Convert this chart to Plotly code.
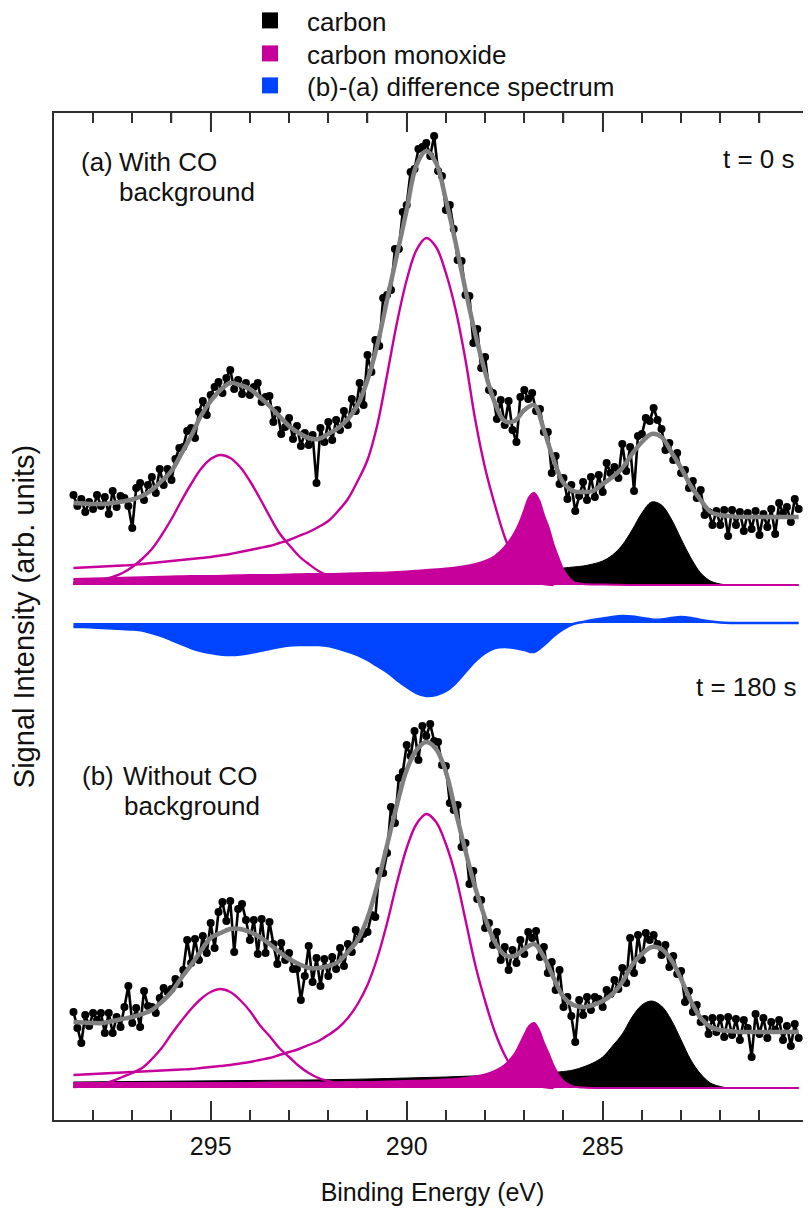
import plotly.graph_objects as go

# ---------------- data ----------------
# Binding-energy sampling of the measured points (eV), 0.1 eV steps from 298.5 down to 280.0
E_START, E_STEP, N_DATA = 298.5, 0.1, 186
energy_data = [round(E_START - E_STEP * i, 2) for i in range(N_DATA)]
# Binding-energy sampling of fitted curves (eV), 0.25 eV steps
N_FIT = 75
energy_fit = [round(298.5 - 0.25 * i, 2) for i in range(N_FIT)]

# (a) With CO background: measured points (arb. units above component baseline)
data_a = [90, 79, 86, 73, 83, 76, 90, 79, 88, 71,
          94, 78, 89, 87, 79, 57, 97, 102, 85, 100,
          108, 92, 116, 100, 116, 105, 126, 137, 138, 154,
          157, 147, 173, 184, 170, 190, 198, 203, 192, 207,
          215, 196, 205, 191, 202, 190, 198, 202, 183, 188,
          189, 163, 175, 151, 158, 167, 146, 159, 139, 152,
          140, 150, 102, 157, 143, 163, 145, 165, 155, 174,
          160, 186, 174, 202, 180, 230, 213, 245, 239, 287,
          290, 295, 336, 336, 373, 380, 413, 416, 436, 438,
          442, 429, 449, 414, 409, 375, 380, 356, 325, 324,
          290, 289, 242, 256, 217, 228, 195, 192, 166, 185,
          160, 184, 155, 143, 188, 195, 186, 192, 174, 176,
          153, 153, 112, 129, 101, 107, 86, 100, 74, 89,
          103, 85, 108, 88, 110, 93, 122, 112, 118, 107,
          141, 114, 138, 94, 149, 151, 167, 164, 177, 165,
          156, 135, 142, 125, 132, 112, 115, 97, 104, 87,
          95, 70, 73, 60, 74, 60, 75, 49, 75, 60,
          73, 54, 72, 56, 74, 50, 71, 58, 76, 51,
          82, 72, 78, 63, 86, 76]
fit_a = [82, 81.5, 81, 81, 82, 83.5, 85.5, 89, 95, 104,
         114, 131, 149, 169, 184, 195, 202, 200, 196, 188,
         179, 169, 159, 152, 147, 146, 151, 157, 166, 180,
         205, 240, 285, 330, 375, 420, 434, 422, 385, 342,
         295, 251, 213, 182, 164, 164, 175, 180, 155, 125,
         102, 94, 93, 94, 101, 108, 117, 131, 143, 151,
         148, 133, 117, 99, 85, 73, 70, 69, 68, 68,
         68, 68, 68, 68, 68]
co295_a = [1, 2, 3, 5, 8, 12, 18, 26, 36, 50, 66, 84, 101, 116, 126, 130, 127, 118,
           104, 87, 69, 52, 40, 29, 21, 14, 9, 5, 2]
co289_a = [17, 17.5, 18, 18.5, 19, 19.5, 20, 21, 22, 23, 24, 25, 26, 27, 28, 29.5, 31,
           33, 35, 37, 39, 42, 45, 49, 53, 58, 64, 74, 86, 104, 125, 160, 210, 262, 305,
           335, 347, 338, 312, 275, 225, 165, 117, 80, 48, 25, 11, 4, 1, 0]

energy_co287 = [298.5, 298.0, 297.5, 297.0, 296.5, 296.0, 295.5, 295.0, 294.5, 294.0,
                293.5, 293.0, 292.5, 292.0, 291.5, 291.0, 290.5, 290.0, 289.5, 289.0,
                288.75, 288.5, 288.25, 288.0, 287.75, 287.5, 287.25, 287.125, 287.0, 286.875,
                286.75, 286.625, 286.5, 286.375, 286.25, 286.125, 286.0, 285.875, 285.75,
                285.5, 285.0, 284.0, 283.0, 282.0, 281.0, 280.0]
co287_a = [6, 6.5, 7, 7.5, 8, 8.5, 9, 9, 9.5, 10, 10, 10.5, 11, 11, 11.5, 12, 12.5, 13.5,
           15, 16.5, 17.5, 19, 21, 24, 29, 38, 52, 62, 75, 88, 92, 85, 70, 57, 40, 27, 15,
           8, 3, 1, 0.5, 0, 0, 0, 0, 0]

energy_carbon = [298.5, 297.0, 295.5, 294.0, 292.5, 291.0, 290.0, 289.0, 288.0, 287.0,
                 286.5, 286.0, 285.75, 285.5, 285.25, 285.0, 284.75, 284.5, 284.25, 284.0,
                 283.75, 283.5, 283.25, 283.0, 282.75, 282.5, 282.25, 282.0, 281.75, 281.0, 280.0]
carbon_a = [3, 4, 5, 6, 7, 8, 9, 10, 12, 14, 15, 17, 18, 19, 21, 24, 30, 40, 55, 72, 83,
            80, 66, 46, 27, 12, 4, 1, 0, 0, 0]

# (b)-(a) difference spectrum
diff_ba = [-4, -4, -4.5, -5, -5.5, -6, -6.5, -7.5, -10, -13,
           -17, -21, -25, -28, -30, -31.5, -32, -31.5, -30, -28,
           -26, -24, -22.5, -22, -22, -22, -23, -25.5, -28.5, -32,
           -37, -43, -49, -57, -64, -70, -73, -72, -68, -60,
           -49, -38, -30, -25, -24, -25, -27, -29, -22, -13,
           -6, -1, 1, 3, 4.5, 6, 7, 6.5, 5, 3.5,
           3.5, 5, 6, 5, 3, 1.5, 0.5, 0, 0, 0,
           0, 0, 0, 0, 0]

# (b) Without CO background
data_b = [76, 60, 45, 73, 62, 75, 68, 75, 55, 75,
          55, 71, 61, 81, 102, 65, 80, 61, 97, 82,
          81, 75, 90, 100, 96, 99, 109, 104, 118, 148,
          125, 149, 128, 152, 135, 165, 140, 176, 186, 167,
          187, 136, 179, 184, 168, 148, 168, 134, 169, 135,
          166, 144, 124, 145, 128, 135, 119, 119, 88, 112,
          142, 106, 130, 102, 129, 112, 131, 119, 140, 122,
          144, 136, 158, 149, 154, 156, 173, 171, 217, 215,
          235, 281, 265, 310, 316, 343, 332, 357, 328, 362,
          352, 364, 347, 346, 323, 322, 285, 278, 283, 241,
          245, 204, 217, 189, 188, 160, 165, 143, 156, 128,
          141, 118, 138, 125, 148, 134, 156, 150, 157, 131,
          141, 115, 126, 98, 118, 81, 91, 72, 46, 88,
          73, 91, 78, 91, 89, 81, 98, 94, 108, 99,
          120, 105, 150, 115, 153, 128, 155, 148, 153, 144,
          133, 143, 121, 132, 114, 117, 86, 97, 76, 83,
          66, 69, 54, 70, 56, 70, 51, 71, 53, 69,
          48, 68, 60, 31, 74, 54, 70, 50, 66, 58,
          68, 48, 62, 42, 64, 50]
fit_b = [66, 65.5, 65, 65, 67, 69, 71, 74, 78, 86,
         96, 110, 123, 137, 150, 155, 159, 159, 156, 151,
         144, 136, 129, 124, 120, 120, 122, 126, 136, 148,
         170, 203, 243, 283, 318, 338, 346, 339, 316, 276,
         237, 200, 170, 146, 133, 132, 139, 144, 131, 110,
         91, 83, 81, 83, 87, 94, 106, 123, 134, 141,
         139, 128, 109, 87, 70, 61, 58, 57, 56, 56,
         56, 56, 56, 56, 56]
co295_b = [1, 1.5, 2.5, 4, 7, 11, 15, 20, 29, 40, 54, 67, 79, 89, 96, 99, 96, 88, 77, 63,
           52, 40, 31, 22, 15, 10, 7, 4, 2, 1]
co289_b = [13, 13.5, 14, 14.5, 15, 15.5, 16, 16.5, 17, 17.5, 18, 18.5, 19, 20, 21, 22, 23,
           24.5, 26, 28, 30, 33, 36, 39, 43, 47, 53, 60, 70, 84, 103, 130, 165, 205, 240,
           264, 274, 266, 244, 212, 168, 123, 87, 56, 33, 17, 7, 3, 1, 0]
co287_b = [5, 5, 5, 5, 5, 5, 5, 5, 5, 5, 5.5, 5.5, 5.5, 5.5, 6, 6, 6.5, 7, 7.5, 8.5,
           9, 10, 11.5, 13.5, 17, 23, 34, 43, 53, 62, 65, 58, 45, 34, 22, 13, 7, 3.5, 1.5,
           0.5, 0, 0, 0, 0, 0, 0]
carbon_b = [6, 6.5, 7, 7.5, 8, 9, 10, 11, 12.5, 14, 15, 16.5, 18, 21, 25, 31, 42, 54, 71,
            83, 87, 82, 68, 48, 28, 14, 5, 1.5, 0, 0, 0]

legend_names = ["carbon", "carbon monoxide", "(b)-(a) difference spectrum"]
major_ticks = [295, 290, 285]
minor_ticks = [298, 297, 296, 294, 293, 292, 291, 289, 288, 287, 286, 284, 283, 282, 281]

# ---------------- styling / layout ----------------
PAGE = 8                      # default body margin of the html page
W, H = 811 - PAGE, 1208 - PAGE
M_L, M_R, M_T, M_B = 46, 0, 105, 88
PLOT_H = H - M_T - M_B
X_RANGE = [298.997, 279.686]
BASE_A = 535     # vertical offset of panel (a) baseline (axis units)
BASE_D = 497     # offset of difference spectrum
BASE_B = 32      # offset of panel (b) baseline
MAJOR_LEN, MINOR_LEN = 19, 10

BLACK = "#000000"
MAGENTA = "#C8009B"
BLUE = "#0044FF"
GRAY = "#808080"
AXIS = "#303030"
TEXT = "#111111"
FONT = "Arial, Liberation Sans, sans-serif"

fig = go.Figure()


def shift(vals, base):
    return [base + v for v in vals]


def filled(xs, vals, base, color, lw, xaxis="x"):
    fig.add_trace(go.Scatter(x=[xs[0], xs[-1]], y=[base, base], mode="lines", xaxis=xaxis,
                             line=dict(width=0, color=color), showlegend=False,
                             hoverinfo="skip"))
    fig.add_trace(go.Scatter(x=xs, y=shift(vals, base), mode="lines", fill="tonexty",
                             xaxis=xaxis, fillcolor=color,
                             line=dict(color=color, width=lw, shape="spline"),
                             showlegend=False))


def line(xs, vals, base, color, lw):
    fig.add_trace(go.Scatter(x=xs, y=shift(vals, base), mode="lines",
                             line=dict(color=color, width=lw, shape="spline"),
                             showlegend=False))


def panel(base, carbon, co287, co295, co289, data, fit):
    filled(energy_carbon, carbon, base, BLACK, 1)
    filled(energy_co287, co287, base, MAGENTA, 2)
    line(energy_fit[:len(co295)], co295, base, MAGENTA, 2.4)
    line(energy_fit[:len(co289)], co289, base, MAGENTA, 2.4)
    fig.add_trace(go.Scatter(x=energy_data, y=shift(data, base), mode="lines+markers",
                             line=dict(color=BLACK, width=2.6),
                             marker=dict(color=BLACK, size=8), showlegend=False))
    line(energy_fit, fit, base, GRAY, 4.5)


panel(BASE_A, carbon_a, co287_a, co295_a, co289_a, data_a, fit_a)
panel(BASE_B, carbon_b, co287_b, co295_b, co289_b, data_b, fit_b)
filled(energy_fit, diff_ba, BASE_D, BLUE, 2.5, xaxis="x2")

legend_ids = ["legend", "legend2", "legend3"]
for name, col, lid in zip(legend_names, [BLACK, MAGENTA, BLUE], legend_ids):
    fig.add_trace(go.Scatter(x=[None], y=[None], mode="markers", name=name, legend=lid,
                             marker=dict(symbol="square", size=16, color=col)))


def px_x(px):
    """screen pixel -> paper x"""
    return (px - PAGE - M_L) / (W - M_L - M_R)


def px_y(py):
    """screen pixel -> paper y"""
    return (H - M_B - (py - PAGE)) / PLOT_H


ann_font = dict(family=FONT, size=26, color=TEXT)
labels = [
    ("(a)", 79, 162, "left"), ("With CO", 117, 162, "left"), ("background", 117, 192, "left"),
    ("(b)", 80, 776, "left"), ("Without CO", 121, 776, "left"), ("background", 122, 806, "left"),
    ("t = 0 s", 797, 159, "right"), ("t = 180 s", 798, 687, "right"),
]
annotations = [dict(text=t, x=px_x(x), y=px_y(y), xref="paper", yref="paper",
                    xanchor=a, yanchor="middle", showarrow=False, font=ann_font)
               for t, x, y, a in labels]

legend_rows = [22, 55, 87]     # screen y of legend row centres
legends = {}
for lid, row in zip(legend_ids, legend_rows):
    legends[lid] = dict(x=px_x(233), y=px_y(row - 25), xanchor="left", yanchor="top",
                        itemwidth=64, font=dict(family=FONT, size=26, color=TEXT),
                        bgcolor="rgba(0,0,0,0)")

# ticks along the top frame edge, placed through the x axis at the tick values
top_ticks = [dict(type="line", xref="x", yref="paper", x0=v, x1=v, y0=1,
                  y1=1 - ln / PLOT_H, line=dict(color=AXIS, width=1.5), layer="above")
             for vals, ln in ((major_ticks, MAJOR_LEN), (minor_ticks, MINOR_LEN))
             for v in vals]


def tick_style():
    return dict(ticks="inside", ticklen=MAJOR_LEN, tickwidth=1.5, tickcolor=AXIS,
                tickmode="array", tickvals=major_ticks,
                minor=dict(tickmode="array", tickvals=minor_ticks, ticks="inside",
                           ticklen=MINOR_LEN, tickwidth=1.5, tickcolor=AXIS, showgrid=False),
                showgrid=False, zeroline=False, showline=True, linecolor=AXIS,
                linewidth=1.5)


fig.update_layout(
    width=W, height=H,
    margin=dict(l=M_L, r=M_R, t=M_T, b=M_B, pad=0, autoexpand=False),
    paper_bgcolor="white", plot_bgcolor="white",
    font=dict(family=FONT, size=25, color=TEXT),
    showlegend=True,
    annotations=annotations,
    shapes=top_ticks,
    xaxis=dict(range=X_RANGE, ticktext=[str(v) for v in major_ticks],
               tickfont=dict(family=FONT, size=25, color=TEXT), ticklabelstandoff=3,
               automargin=False, mirror="allticks",
               title=dict(text="Binding Energy (eV)", standoff=25,
                          font=dict(family=FONT, size=25, color=TEXT)),
               **tick_style()),
    xaxis2=dict(range=X_RANGE, overlaying="x", side="top", anchor="y",
                showticklabels=False, automargin=False, **tick_style()),
    yaxis=dict(range=[0, PLOT_H], showline=True, linecolor=AXIS, linewidth=1.5,
               mirror=False, ticks="", showticklabels=False, showgrid=False, zeroline=False,
               automargin=False,
               title=dict(text="Signal Intensity (arb. units)", standoff=16,
                          font=dict(family=FONT, size=29, color=TEXT))),
    **legends,
)

fig.write_html("out.html")
